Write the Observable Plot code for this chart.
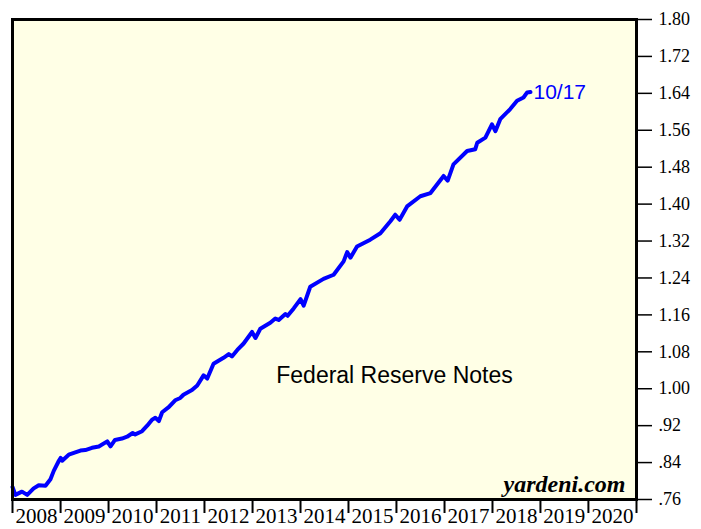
<!DOCTYPE html>
<html><head><meta charset="utf-8">
<script src="https://cdn.jsdelivr.net/npm/d3@7"></script>
<script src="https://cdn.jsdelivr.net/npm/@observablehq/plot@0.6"></script>
<style>body{margin:0;background:#fff}</style>
</head><body><div id="chart"></div>
<script>
const dates = [
  "2008-01-01","2008-01-23","2008-03-13","2008-04-22","2008-06-10","2008-07-19","2008-09-08","2008-10-16","2008-11-10","2008-12-19",
  "2009-01-01","2009-01-13","2009-03-04","2009-04-23","2009-06-01","2009-07-08","2009-08-28","2009-10-19","2009-12-22",
  "2010-01-16","2010-02-19","2010-04-13","2010-05-22","2010-07-04","2010-07-23","2010-09-13","2010-10-22","2010-11-28","2010-12-23",
  "2011-01-19","2011-02-13","2011-04-04","2011-05-23","2011-07-01","2011-07-25","2011-09-28","2011-11-07","2011-12-25",
  "2012-01-22","2012-03-10","2012-05-25","2012-07-04","2012-07-28","2012-09-07","2012-10-25","2012-12-28",
  "2013-01-23","2013-03-01","2013-05-16","2013-06-23","2013-07-19","2013-09-08","2013-09-25","2013-11-10",
  "2014-01-01","2014-01-25","2014-03-16","2014-06-25","2014-09-10","2014-11-25","2014-12-22",
  "2015-01-16","2015-03-07","2015-06-16","2015-09-01","2015-11-16","2015-12-23",
  "2016-01-25","2016-03-22","2016-07-01","2016-09-16","2016-12-25",
  "2017-01-25","2017-03-10","2017-06-22","2017-08-23","2017-09-07","2017-11-08","2017-12-28",
  "2018-01-23","2018-03-01","2018-05-16","2018-07-07","2018-08-25","2018-09-22","2018-10-17"
];
const values = [
  0.787,0.770,0.777,0.770,0.784,0.791,0.790,0.804,0.822,0.844,
  0.850,0.844,0.857,0.862,0.866,0.867,0.872,0.875,0.886,
  0.875,0.889,0.892,0.896,0.904,0.901,0.908,0.920,0.933,0.937,
  0.930,0.949,0.960,0.975,0.980,0.987,0.997,1.007,1.029,
  1.022,1.054,1.067,1.075,1.070,1.084,1.098,1.123,
  1.110,1.130,1.143,1.152,1.149,1.162,1.158,1.174,
  1.194,1.180,1.221,1.238,1.247,1.276,1.296,
  1.284,1.308,1.323,1.337,1.363,1.377,
  1.366,1.395,1.417,1.424,1.461,
  1.451,1.486,1.515,1.519,1.533,1.544,1.573,
  1.558,1.584,1.606,1.624,1.631,1.642,1.643
];
const yearLabels = ["2008","2009","2010","2011","2012","2013","2014","2015","2016","2017","2018","2019","2020"];
const yTicks = [0.76,0.84,0.92,1.00,1.08,1.16,1.24,1.32,1.40,1.48,1.56,1.64,1.72,1.80];
const title = "Federal Reserve Notes";
const lastLabel = "10/17";
const source = "yardeni.com";

const parse = d3.utcParse("%Y-%m-%d");
const data = dates.map((d, i) => ({date: parse(d), value: values[i]}));
const yearStarts = yearLabels.map(y => parse(y + "-01-01")).concat([parse("2021-01-01")]);
const yearMids = yearLabels.map(y => parse(y + "-07-02"));
const fmt = v => { const s = v.toFixed(2); return v < 1 ? s.slice(1) : s; };
const serif = "'Liberation Serif','Times New Roman',serif";
const sans = "'Liberation Sans',Arial,sans-serif";

const chart = Plot.plot({
  width: 701, height: 529,
  marginLeft: 12, marginRight: 65, marginTop: 19, marginBottom: 30,
  x: {type: "utc", domain: [parse("2008-01-01"), parse("2021-01-01")]},
  y: {domain: [0.76, 1.80]},
  style: {background: "white", fontFamily: serif, color: "black"},
  marks: [
    Plot.frame({fill: "#ffffe6", stroke: null}),
    Plot.axisX({ticks: yearStarts, tickSize: 14, fill: "none", strokeWidth: 2, label: null}),
    Plot.axisX({ticks: yearMids, tickSize: 0, tickPadding: 9, tickFormat: d => String(d.getUTCFullYear()), fontSize: 21, label: null}),
    Plot.axisY({anchor: "right", ticks: yTicks, tickSize: 15, tickPadding: 7, tickFormat: fmt, fontSize: 18, strokeWidth: 1.5, label: null}),
    Plot.line(data, {x: "date", y: "value", stroke: "#0000ff", strokeWidth: 4, strokeLinejoin: "round"}),
    Plot.text([data[data.length - 1]], {x: "date", y: "value", text: () => lastLabel, textAnchor: "start", dx: 3, fill: "#0000ff", fontSize: 21, fontFamily: sans}),
    Plot.text([title], {frameAnchor: "middle", dx: 70, dy: 116, fontSize: 23, fontFamily: sans, fill: "black"}),
    Plot.text([source], {frameAnchor: "bottom-right", dx: -11, dy: -8, fontSize: 24, fontStyle: "italic", fontWeight: "bold", fontFamily: serif, fill: "black"}),
    Plot.frame({stroke: "black", strokeWidth: 3})
  ]
});
document.getElementById("chart").append(chart);
</script>
</body></html>
